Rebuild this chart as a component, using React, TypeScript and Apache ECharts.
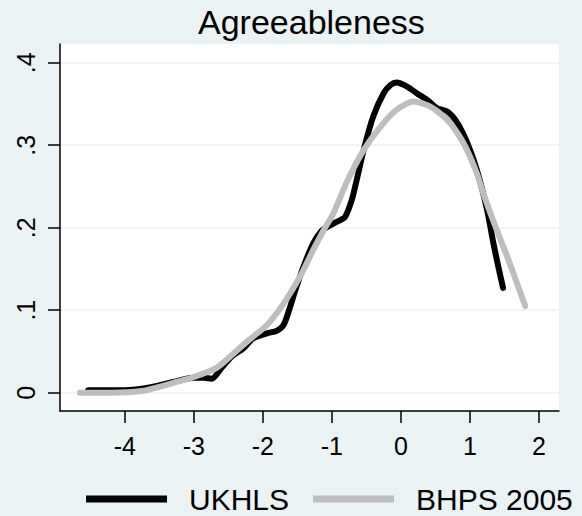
import React, { useEffect, useRef } from "react";
import * as echarts from "echarts";

const ukhlsX = [-4.53, -4.0, -3.6, -3.3, -3.0, -2.85, -2.74, -2.6, -2.45, -2.28, -2.14, -1.94, -1.8, -1.7, -1.62, -1.53, -1.41, -1.27, -1.15, -1.07, -0.93, -0.81, -0.71, -0.64, -0.54, -0.4, -0.25, -0.15, -0.06, 0.09, 0.23, 0.38, 0.52, 0.67, 0.81, 0.96, 1.1, 1.25, 1.34, 1.41, 1.48];
const ukhlsY = [0.003, 0.003, 0.007, 0.013, 0.018, 0.018, 0.017, 0.03, 0.044, 0.054, 0.066, 0.072, 0.075, 0.082, 0.1, 0.124, 0.153, 0.181, 0.196, 0.201, 0.207, 0.213, 0.234, 0.258, 0.294, 0.335, 0.363, 0.373, 0.376, 0.371, 0.363, 0.355, 0.345, 0.341, 0.328, 0.303, 0.27, 0.221, 0.181, 0.153, 0.127];

const bhpsX = [-4.65, -4.2, -3.75, -3.5, -3.25, -3.0, -2.67, -2.43, -2.2, -1.94, -1.7, -1.46, -1.27, -1.12, -0.98, -0.78, -0.54, -0.3, -0.06, 0.18, 0.42, 0.67, 0.91, 1.1, 1.2, 1.39, 1.54, 1.68, 1.8];
const bhpsY = [0.0, 0.0, 0.002, 0.007, 0.013, 0.019, 0.03, 0.047, 0.064, 0.082, 0.108, 0.141, 0.173, 0.197, 0.217, 0.256, 0.294, 0.322, 0.343, 0.353, 0.347, 0.331, 0.302, 0.266, 0.24, 0.197, 0.165, 0.133, 0.105];

const seriesNames = ["UKHLS", "BHPS 2005"];
const xTicks = [-4, -3, -2, -1, 0, 1, 2];
const yTicks = [0, 0.1, 0.2, 0.3, 0.4];
const titleText = "Agreeableness";

const BG = "#EAF2F3";
const FONT = "Liberation Sans, Arial, sans-serif";

export default function App() {
  const ref = useRef<HTMLDivElement>(null);
  useEffect(() => {
    if (!ref.current) return;
    const chart = echarts.init(ref.current, null, { renderer: "svg" });
    const zip = (xs: number[], ys: number[]) => xs.map((x, i) => [x, ys[i]]);
    chart.setOption({
      animation: false,
      backgroundColor: BG,
      title: {
        text: titleText,
        left: 198,
        top: 5,
        padding: 0,
        textStyle: { fontFamily: FONT, fontSize: 34, fontWeight: "normal", color: "#000" },
      },
      legend: {
        data: seriesNames,
        icon: "rect",
        itemWidth: 81,
        itemHeight: 7,
        itemGap: 24,
        left: 86,
        top: 484,
        padding: 0,
        textStyle: { fontFamily: FONT, fontSize: 30, lineHeight: 30, color: "#000", padding: [0, 0, 0, 17] },
      },
      grid: { left: 60, right: 23, top: 44, bottom: 105, backgroundColor: "#fff", show: true, borderWidth: 0 },
      xAxis: {
        type: "value",
        min: -4.938,
        max: 2.29,
        axisLine: { show: true, onZero: false, lineStyle: { color: "#000", width: 1.5 } },
        axisTick: { show: true, length: 12, customValues: xTicks, lineStyle: { color: "#000", width: 1.5 } },
        axisLabel: { customValues: xTicks, fontFamily: FONT, fontSize: 25, color: "#000", margin: 22 },
        splitLine: { show: false },
      },
      yAxis: {
        type: "value",
        min: -0.0222,
        max: 0.4227,
        axisLine: { show: true, onZero: false, lineStyle: { color: "#000", width: 1.5 } },
        axisTick: { show: true, length: 12, customValues: yTicks, lineStyle: { color: "#000", width: 1.5 } },
        axisLabel: {
          customValues: yTicks,
          rotate: 90,
          fontFamily: FONT,
          fontSize: 25,
          color: "#000",
          margin: 22,
          formatter: (v: number) => (Math.abs(v) < 1e-9 ? "0" : "." + Math.round(v * 10)),
        },
        splitLine: { show: true, lineStyle: { color: BG, width: 1.5 } },
      },
      series: [
        {
          name: seriesNames[0],
          type: "line",
          data: zip(ukhlsX, ukhlsY),
          showSymbol: false,
          smooth: 0.25,
          color: "#000",
          lineStyle: { color: "#000", width: 6, cap: "round", join: "round" },
        },
        {
          name: seriesNames[1],
          type: "line",
          data: zip(bhpsX, bhpsY),
          showSymbol: false,
          smooth: 0.25,
          color: "#BEBEBE",
          lineStyle: { color: "#BEBEBE", width: 6, cap: "round", join: "round" },
        },
      ],
    });
    return () => chart.dispose();
  }, []);
  return <div ref={ref} style={{ position: "fixed", left: 0, top: 0, width: 582, height: 516 }} />;
}
